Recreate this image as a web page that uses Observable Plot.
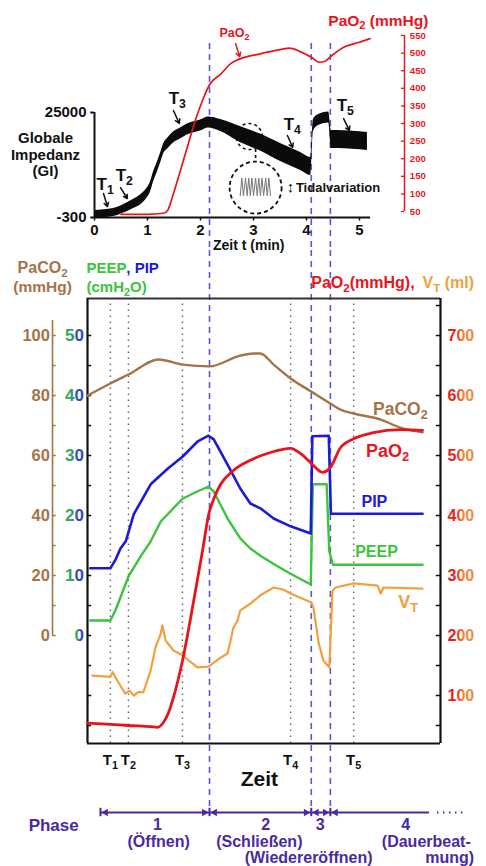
<!DOCTYPE html>
<html><head><meta charset="utf-8">
<script src="https://cdn.jsdelivr.net/npm/d3@7"></script>
<script src="https://cdn.jsdelivr.net/npm/@observablehq/plot@0.6"></script>
<style>
html,body{margin:0;padding:0;background:#fff;}
#wrap{position:relative;width:486px;height:866px;overflow:hidden;background:#fff;}
#top,#bot{position:absolute;left:0;}
#top{top:0;}
#bot{top:250px;}
</style></head><body>
<div id="wrap"><div id="top"></div><div id="bot"></div></div>
<script>
const F = "'Liberation Sans', Arial, Helvetica, sans-serif";

// ---------------- TOP PANEL DATA ----------------
// Global impedance (GI) over time t (min): centre value and tidal half-amplitude
const giTime  = [0, 0.36, 0.68, 0.92, 1.00, 1.06, 1.11, 1.19, 1.25, 1.30, 1.40, 1.49, 1.62, 1.75, 2.00, 2.15, 2.38, 2.75, 3.13, 3.51, 3.89, 4.08, 4.13, 4.21, 4.42, 4.47, 4.58, 5.15];
const giValue = [423, 905, 2591, 4519, 5724, 7169, 9338, 11988, 14157, 16085, 17771, 18976, 19938, 20904, 21868, 22590, 21868, 19700, 17771, 15362, 13193, 11988, 21868, 23072, 23795, 18494, 18494, 18012];
const giTidal = [960, 960, 1080, 1200, 1200, 1200, 1200, 1200, 1200, 1200, 1330, 1330, 1330, 1330, 1330, 1330, 1450, 1930, 2050, 2170, 2170, 2170, 1450, 1330, 1330, 2170, 2170, 2170];
// PaO2 (mmHg), top panel
const paO2TopTime = [0.5, 1.0, 1.3, 1.38, 1.49, 1.62, 1.75, 1.9, 2.06, 2.17, 2.38, 2.57, 2.83, 3.13, 3.5, 3.68, 3.87, 4.09, 4.24, 4.34, 4.47, 4.72, 4.98, 5.2];
const paO2Top     = [42, 42, 45, 53, 101, 166, 232, 308, 374, 410, 440, 470, 488, 498, 510, 514, 505, 488, 474, 476, 492, 518, 530, 541];
const topTimeTicks = [0, 1, 2, 3, 4, 5];
const paO2AxisTicks = [50, 100, 150, 200, 250, 300, 350, 400, 450, 500, 550];
const giAxisTicks = [-300, 25000];
const phaseBounds = [2.17, 4.09, 4.45];
// tidal variation icon
const zigT = [2.75, 2.78, 2.81, 2.85, 2.88, 2.91, 2.94, 2.97, 3.00, 3.04, 3.07, 3.10, 3.13, 3.16, 3.19, 3.23, 3.26, 3.29, 3.32];
const zigV = [95, 145, 95, 145, 95, 145, 95, 145, 95, 145, 95, 145, 95, 145, 95, 145, 95, 145, 95];

// ---------------- BOTTOM PANEL DATA ----------------
const paco2Time = [-0.13, 0.30, 0.64, 1.21, 1.66, 2.17, 2.75, 3.0, 3.13, 3.38, 3.70, 4.09, 4.45, 4.64, 4.89, 5.40, 5.77, 6.19];
const paco2     = [80, 84, 87, 92, 90.3, 89.7, 93.3, 94, 94, 90.3, 85.7, 81.3, 77.3, 75.3, 74, 72, 69.3, 67.7];
const paO2Time  = [-0.13, 0.30, 0.64, 1.06, 1.19, 1.30, 1.40, 1.49, 1.66, 1.85, 2.04, 2.15, 2.26, 2.38, 2.62, 2.94, 3.32, 3.70, 3.89, 4.09, 4.30, 4.45, 4.64, 4.89, 5.26, 5.77, 6.19];
const paO2      = [54, 52, 50, 48, 47, 55, 72, 97, 158, 247, 342, 400, 430, 452, 475, 492, 505, 512, 503, 487, 472, 480, 513, 528, 538, 543, 542];
const pipTime   = [-0.08, 0.30, 0.40, 0.49, 0.59, 0.74, 1.06, 1.38, 1.66, 1.94, 2.15, 2.25, 2.51, 2.75, 2.94, 3.13, 3.38, 3.70, 4.08, 4.11, 4.42, 4.46, 6.19];
const pip       = [11.2, 11.2, 12.7, 14.5, 15.7, 20.2, 25.2, 27.8, 29.8, 32.3, 33.3, 32.7, 28.5, 24.5, 22, 21.2, 19.5, 18.2, 17.0, 33.2, 33.3, 20.3, 20.3];
const peepTime  = [-0.08, 0.30, 0.40, 0.64, 0.87, 1.06, 1.25, 1.66, 1.94, 2.15, 2.25, 2.51, 2.75, 2.94, 3.13, 3.42, 3.70, 4.08, 4.12, 4.38, 4.43, 4.50, 6.19];
const peep      = [2.5, 2.5, 4.3, 9.8, 13.2, 15.7, 19, 22.8, 24, 24.8, 24, 19.5, 16.2, 14.5, 13.3, 11.7, 10.3, 8.5, 25.2, 25.2, 14, 11.8, 11.8];
const vtTime    = [-0.04, 0.30, 0.34, 0.43, 0.58, 0.66, 0.74, 0.83, 0.92, 1.06, 1.15, 1.25, 1.28, 1.34, 1.49, 1.66, 1.94, 2.15, 2.38, 2.51, 2.57, 2.62, 2.70, 2.75, 2.94, 3.13, 3.38, 3.55, 3.70, 4.09, 4.13, 4.23, 4.32, 4.43, 4.49, 4.55, 4.89, 5.34, 5.40, 5.45, 6.19];
const vt        = [133, 131, 139, 125, 103, 108, 100, 106, 105, 142, 180, 203, 217, 192, 175, 167, 147, 148, 163, 170, 192, 213, 225, 242, 253, 267, 280, 277, 270, 255, 247, 187, 158, 147, 275, 280, 287, 283, 270, 280, 278];
const tMarks = [{label: "T_1", t: 0.30}, {label: "T_2", t: 0.64}, {label: "T_3", t: 1.66}, {label: "T_4", t: 3.70}, {label: "T_5", t: 4.89}];
const pipTicks = [-15, -10, -5, 0, 5, 10, 15, 20, 25, 30, 35, 40, 45, 50];
const pipLabels = [0, 10, 20, 30, 40, 50];
const paco2Ticks = [0, 10, 20, 30, 40, 50, 60, 70, 80, 90, 100];
const paco2Labels = [0, 20, 40, 60, 80, 100];
const mlTicks = [50, 100, 150, 200, 250, 300, 350, 400, 450, 500, 550, 600, 650, 700, 750];
const mlLabels = [100, 200, 300, 400, 500, 600, 700];
const phaseStart = [0.113, 2.17, 4.09, 4.45];
const phaseEnd   = [2.17, 4.09, 4.45, 6.32];
const phaseNames = ["1", "2", "3", "4"];

// ---------------- helpers ----------------
const RED = "#e8141c", BROWN = "#a47448", BLUE = "#1a1ad8", GREEN = "#3cc43c", ORANGE = "#f2a03d", PURPLE = "#4a2aa0", DASH = "#5b57d1";
const toTop = gi => 33 + (gi + 300) * 0.011787;          // GI -> PaO2-axis units (top)
const cmToMl = cm => 200 + 10 * cm;                        // cmH2O -> right axis units
const co2ToMl = mm => 200 + 5 * mm;                        // PaCO2 -> right axis units
const zip = (xs, ys) => xs.map((t, i) => ({t, v: ys[i]}));
const NS = "http://www.w3.org/2000/svg";

function applySubs(svg) {
  svg.querySelectorAll("text").forEach(tx => {
    const leaves = tx.querySelectorAll("tspan").length ? [...tx.querySelectorAll("tspan")] : [tx];
    leaves.forEach(el => {
      const s = el.textContent;
      if (!s.includes("_")) return;
      const parts = s.split(/_(.)/);
      el.textContent = "";
      parts.forEach((p, i) => {
        if (p === "") return;
        const ts = document.createElementNS(NS, "tspan");
        ts.textContent = p;
        if (i % 2 === 1) { ts.setAttribute("font-size", "72%"); ts.setAttribute("dy", "0.32em"); }
        else if (i > 0) { ts.setAttribute("dy", "-0.23em"); }
        el.appendChild(ts);
      });
    });
  });
}
function addGradient(svg, id, stops) {
  let defs = svg.querySelector("defs");
  if (!defs) { defs = document.createElementNS(NS, "defs"); svg.insertBefore(defs, svg.firstChild); }
  const g = document.createElementNS(NS, "linearGradient");
  g.setAttribute("id", id); g.setAttribute("x1", "0"); g.setAttribute("x2", "1"); g.setAttribute("y1", "0"); g.setAttribute("y2", "0");
  stops.forEach(([o, c]) => {
    const s = document.createElementNS(NS, "stop");
    s.setAttribute("offset", o); s.setAttribute("stop-color", c);
    g.appendChild(s);
  });
  defs.appendChild(g);
}

const txt = (rows, opts) => Plot.text(rows, {x: "t", y: "v", text: "s", fontWeight: "bold", ...opts});

// ---------------- TOP PANEL ----------------
const giRows = giTime.map((t, i) => ({t, lo: toTop(giValue[i] - giTidal[i]), hi: toTop(giValue[i] + giTidal[i])}));
const topT = [
  {s: "T_1", t: 0.04, v: 126.7}, {s: "T_2", t: 0.40, v: 152.3}, {s: "T_3", t: 1.40, v: 369.6},
  {s: "T_4", t: 3.57, v: 297.2}, {s: "T_5", t: 4.57, v: 349.7}
];
const topArrows = [
  {x1: 0.17, y1: 101, x2: 0.245, y2: 64}, {x1: 0.49, y1: 118, x2: 0.62, y2: 87},
  {x1: 1.49, y1: 337, x2: 1.60, y2: 300}, {x1: 3.64, y1: 266, x2: 3.74, y2: 232},
  {x1: 4.70, y1: 314, x2: 4.81, y2: 280}
];

const topPlot = Plot.plot({
  width: 486, height: 250,
  marginLeft: 94, marginRight: 82, marginTop: 35, marginBottom: 33,
  x: {domain: [0, 5.849], axis: null},
  y: {domain: [33, 550], axis: null},
  style: {fontFamily: F, background: "transparent", overflow: "visible"},
  marks: [
    Plot.ruleX(phaseBounds, {y1: 527, y2: -61, stroke: DASH, strokeWidth: 1.6, strokeDasharray: "6,5"}),
    // left GI axis
    Plot.ruleX([0], {y1: toTop(-300), y2: toTop(25000), stroke: "#111", strokeWidth: 2}),
    Plot.ruleY(giAxisTicks, {y: d => toTop(d), x1: -0.07, x2: 0, stroke: "#111", strokeWidth: 2}),
    Plot.text(giAxisTicks, {x: -0.15, y: d => toTop(d), text: d => String(d), textAnchor: "end", fontSize: 15, fontWeight: "bold", fill: "#111"}),
    // x axis
    Plot.ruleY([33], {x1: 0, x2: 5.21, stroke: "#111", strokeWidth: 2}),
    Plot.ruleX(topTimeTicks, {y1: 33, y2: 23, stroke: "#111", strokeWidth: 1.5}),
    Plot.text(topTimeTicks, {x: d => d, y: -4, text: d => String(d), fontSize: 15, fontWeight: "bold", fill: "#111"}),
    txt([{s: "Zeit t (min)", t: 2.91, v: -46}], {fontSize: 14, fill: "#111"}),
    // right PaO2 axis
    Plot.ruleX([5.849], {y1: 50, y2: 550, stroke: RED, strokeWidth: 1.5}),
    Plot.ruleY(paO2AxisTicks, {y: d => d, x1: 5.79, x2: 5.849, stroke: RED, strokeWidth: 1.3}),
    Plot.text(paO2AxisTicks, {x: 5.95, y: d => d, text: d => String(d), textAnchor: "start", fontSize: 9.5, fontWeight: "bold", fill: RED}),
    txt([{s: "PaO_2 (mmHg)", t: 6.30, v: 592}], {textAnchor: "end", fontSize: 15.5, fill: RED}),
    // impedance band and PaO2 curve
    Plot.areaY(giRows, {x: "t", y1: "lo", y2: "hi", fill: "#0b0b0b", curve: "monotone-x"}),
    Plot.line(zip(paO2TopTime, paO2Top), {x: "t", y: "v", stroke: RED, strokeWidth: 1.7, curve: "monotone-x"}),
    // labels
    Plot.text([{s: "Globale\nImpedanz\n(GI)", t: -0.925, v: 212}], {x: "t", y: "v", text: "s", fontSize: 15, fontWeight: "bold", lineHeight: 1.1, fill: "#111"}),
    txt(topT, {textAnchor: "start", fontSize: 17, fill: "#111"}),
    Plot.arrow(topArrows, {x1: "x1", y1: "y1", x2: "x2", y2: "y2", stroke: "#111", strokeWidth: 1.5, headLength: 6}),
    txt([{s: "PaO_2", t: 2.64, v: 556}], {fontSize: 12.5, fill: RED}),
    Plot.arrow([{x1: 2.66, y1: 527, x2: 2.74, y2: 490}], {x1: "x1", y1: "y1", x2: "x2", y2: "y2", stroke: RED, strokeWidth: 1.5, headLength: 6}),
    // tidal variation inset
    Plot.dot([{t: 2.92, v: 263}], {x: "t", y: "v", r: 13, stroke: "#111", strokeWidth: 1.6, strokeDasharray: "3,3", fill: "none"}),
    Plot.ruleX([3.04], {y1: 226, y2: 192, stroke: "#111", strokeWidth: 1.6, strokeDasharray: "3,3"}),
    Plot.dot([{t: 3.04, v: 118}], {x: "t", y: "v", r: 26, stroke: "#111", strokeWidth: 1.8, strokeDasharray: "4,3", fill: "white"}),
    Plot.line(zip(zigT, zigV), {x: "t", y: "v", stroke: "#777", strokeWidth: 1}),
    txt([{s: "↕", t: 3.70, v: 118}], {fontSize: 15, fill: "#111"}),
    txt([{s: "Tidalvariation", t: 3.80, v: 118}], {textAnchor: "start", fontSize: 13, fill: "#111"})
  ]
});
applySubs(topPlot);
document.getElementById("top").appendChild(topPlot);

// ---------------- BOTTOM PANEL ----------------
const L = -0.132, R = 6.528, CO2X = -0.792, PY = -95;
const botPlot = Plot.plot({
  width: 486, height: 616,
  marginLeft: 87, marginRight: 46, marginTop: 48, marginBottom: 123,
  x: {domain: [L, R], axis: null},
  y: {domain: [20, 761.7], axis: null},
  style: {fontFamily: F, background: "transparent", overflow: "visible"},
  marks: [
    Plot.ruleX(tMarks, {x: "t", y1: 20, y2: 761.7, stroke: "#666", strokeWidth: 1.4, strokeDasharray: "1.5,4.5"}),
    Plot.ruleX(phaseBounds, {y1: 841.7, y2: -86, stroke: DASH, strokeWidth: 1.6, strokeDasharray: "6,5"}),
    // frame
    Plot.ruleY([761.7], {x1: L, x2: R, stroke: "#333", strokeWidth: 2.2}),
    Plot.ruleY([20], {x1: L, x2: R, stroke: "#111", strokeWidth: 2.2}),
    Plot.ruleX([L], {y1: 20, y2: 761.7, stroke: "#111", strokeWidth: 2.2}),
    Plot.ruleX([R], {y1: 20, y2: 761.7, stroke: "#111", strokeWidth: 2.2}),
    Plot.ruleY(pipTicks, {y: d => cmToMl(d), x1: L, x2: L + 0.08, stroke: "#111", strokeWidth: 1.5}),
    Plot.ruleY(mlTicks, {y: d => d, x1: R - 0.08, x2: R, stroke: "#111", strokeWidth: 1.5}),
    Plot.text(pipLabels, {x: -0.2, y: d => cmToMl(d), text: d => String(d), textAnchor: "end", fontSize: 17, fontWeight: "bold", fill: "url(#gradPip)"}),
    Plot.text(mlLabels, {x: 6.66, y: d => d, text: d => String(d), textAnchor: "start", fontSize: 16, fontWeight: "bold", fill: "url(#gradMl)"}),
    // PaCO2 axis
    Plot.ruleX([CO2X], {y1: co2ToMl(0), y2: co2ToMl(105), stroke: BROWN, strokeWidth: 1.6}),
    Plot.ruleY(paco2Ticks, {y: d => co2ToMl(d), x1: CO2X, x2: CO2X + 0.07, stroke: BROWN, strokeWidth: 1.4}),
    Plot.text(paco2Labels, {x: -0.84, y: d => co2ToMl(d), text: d => String(d), textAnchor: "end", fontSize: 16.5, fontWeight: "bold", fill: BROWN}),
    // series
    Plot.line(zip(paco2Time, paco2), {x: "t", y: d => co2ToMl(d.v), stroke: BROWN, strokeWidth: 2.4, curve: "monotone-x"}),
    Plot.line(zip(vtTime, vt), {x: "t", y: "v", stroke: ORANGE, strokeWidth: 2.2}),
    Plot.line(zip(peepTime, peep), {x: "t", y: d => cmToMl(d.v), stroke: GREEN, strokeWidth: 2.4}),
    Plot.line(zip(pipTime, pip), {x: "t", y: d => cmToMl(d.v), stroke: BLUE, strokeWidth: 2.6}),
    Plot.line(zip(paO2Time, paO2), {x: "t", y: "v", stroke: RED, strokeWidth: 2.8, curve: "monotone-x"}),
    // inline series labels
    txt([{s: "PaCO_2", t: 5.77, v: 577}], {fontSize: 17.5, fill: BROWN}),
    txt([{s: "PaO_2", t: 5.53, v: 507}], {fontSize: 18, fill: RED}),
    txt([{s: "PIP", t: 5.28, v: 422}], {fontSize: 16, fill: BLUE}),
    txt([{s: "PEEP", t: 5.32, v: 340}], {fontSize: 16, fill: GREEN}),
    txt([{s: "V_T", t: 5.92, v: 255}], {fontSize: 18, fill: ORANGE}),
    // headers
    txt([{s: "PaCO_2", t: -0.98, v: 813}], {fontSize: 16, fill: BROWN}),
    txt([{s: "(mmHg)", t: -0.98, v: 780}], {fontSize: 15.5, fill: BROWN}),
    txt([{s: "PEEP", t: -0.151, v: 813}], {textAnchor: "start", fontSize: 15, fill: GREEN}),
    txt([{s: ", PIP", t: 0.60, v: 813}], {textAnchor: "start", fontSize: 15, fill: BLUE}),
    txt([{s: "(cmH_2O)", t: -0.151, v: 780}], {textAnchor: "start", fontSize: 15, fill: GREEN}),
    txt([{s: "PaO_2(mmHg),", t: 4.09, v: 787}], {textAnchor: "start", fontSize: 16, fill: RED}),
    txt([{s: "V_T (ml)", t: 6.19, v: 787}], {textAnchor: "start", fontSize: 16, fill: ORANGE}),
    // time marks
    Plot.text(tMarks, {x: "t", y: -8.3, text: "label", fontSize: 15, fontWeight: "bold", fill: "#111"}),
    txt([{s: "Zeit", t: 3.11, v: -40}], {fontSize: 21, fill: "#111"}),
    // phases
    Plot.ruleY(phaseStart, {x1: d => d, x2: (d, i) => phaseEnd[i], y: PY, stroke: PURPLE, strokeWidth: 2}),
    Plot.ruleX(phaseStart, {y1: PY - 7, y2: PY + 7, stroke: PURPLE, strokeWidth: 2}),
    Plot.dot(phaseStart, {x: d => d, y: PY, symbol: "triangle2", rotate: -90, r: 3.6, dx: 5.2, fill: PURPLE}),
    Plot.dot(phaseEnd.slice(0, 3), {x: d => d, y: PY, symbol: "triangle2", rotate: 90, r: 3.6, dx: -5.2, fill: PURPLE}),
    Plot.ruleY([PY], {x1: 6.47, x2: 6.96, stroke: PURPLE, strokeWidth: 2, strokeDasharray: "1.5,4.5"}),
    txt([{s: "Phase", t: -0.77, v: -116}], {fontSize: 17, fill: PURPLE}),
    Plot.text(phaseNames, {x: (d, i) => [1.19, 3.23, 4.26, 5.87][i], y: -115, text: d => d, fontSize: 16, fontWeight: "bold", fill: PURPLE}),
    txt([{s: "(Öffnen)", t: 1.21, v: -143.5}, {s: "(Schließen)", t: 3.11, v: -143.5}, {s: "(Dauerbeat-", t: 6.26, v: -143.5},
         {s: "(Wiedereröffnen)", t: 4.04, v: -170}, {s: "mung)", t: 6.70, v: -170}], {fontSize: 16, fill: PURPLE})
  ]
});
addGradient(botPlot, "gradPip", [["0.35", "#34a466"], ["0.65", "#3346c2"]]);
addGradient(botPlot, "gradMl", [["0.3", "#e8201c"], ["0.6", "#f08a3a"]]);
applySubs(botPlot);
document.getElementById("bot").appendChild(botPlot);
</script></body></html>
